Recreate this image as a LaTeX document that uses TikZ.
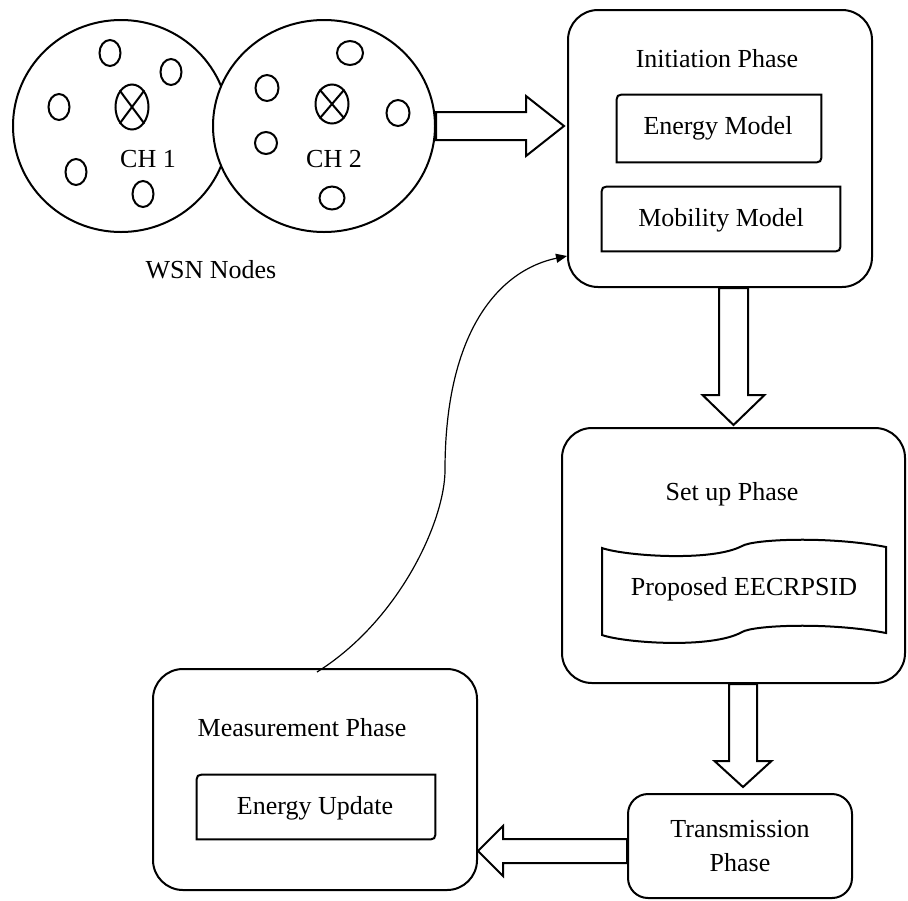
\documentclass[tikz,border=0pt]{standalone}
\usepackage{fontspec}
\setmainfont{Liberation Serif}
\usetikzlibrary{shapes.geometric,arrows.meta,calc}
\newcommand\rdbox[1]{\draw[lw] (#1.south west) -- ($(#1.north west)+(0,10)$) .. controls (#1.north west) .. ($(#1.north west)+(10,0)$) -- (#1.north east) -- ($(#1.south east)+(0,-10)$) .. controls (#1.south east) .. ($(#1.south east)+(-10,0)$) -- cycle;}
\begin{document}
\begin{tikzpicture}[x=0.5pt,y=-0.5pt,
  every node/.style={font=\fontsize{13}{17}\selectfont},
  lw/.style={line width=1pt},
  txt/.style={anchor=base,inner sep=0pt},
  phase/.style={draw,line width=1pt,rounded corners=15pt,inner sep=0pt},
  inbox/.style={inner sep=0pt},
  sens/.style={draw,ellipse,line width=1pt,inner sep=0pt,minimum width=10.5pt,minimum height=13pt},
  chead/.style={draw,ellipse,line width=1pt,inner sep=0pt,minimum width=16.5pt},
  blk/.style={draw,line width=1pt,fill=white,line join=miter}
]
\useasboundingbox (0,0) rectangle (908,900);

% cluster circles
\node[draw,ellipse,line width=1pt,inner sep=0pt,minimum width=108pt,minimum height=106pt] (c1) at (121,126) {};
\node[draw,ellipse,fill=white,line width=1pt,inner sep=0pt,minimum width=111pt,minimum height=106pt] (c2) at (324,126) {};

% sensors in cluster 1
\node[sens] (s11) at (110,53) {};
\node[sens] (s12) at (171,72) {};
\node[sens] (s13) at (59,107) {};
\node[sens] (s14) at (76,172) {};
\node[sens] (s15) at (143,194) {};
% sensors in cluster 2
\node[sens,minimum width=13pt,minimum height=12pt] (s21) at (350,53) {};
\node[sens,minimum width=11.5pt] (s22) at (267,88) {};
\node[sens,minimum width=11.5pt] (s23) at (398,113) {};
\node[sens,minimum width=11pt,minimum height=11pt] (s24) at (266,143) {};
\node[sens,minimum width=12.5pt,minimum height=11.5pt] (s25) at (332,198) {};

% cluster heads
\node[chead,minimum height=22.5pt] (h1) at (132,107) {};
\draw[lw] (h1.north east) -- (h1.south west) (h1.north west) -- (h1.south east);
\node[chead,minimum height=19.5pt] (h2) at (332,104) {};
\draw[lw] (h2.north east) -- (h2.south west) (h2.north west) -- (h2.south east);

\node[txt] (ch1) at (148,167) {CH 1};
\node[txt] (ch2) at (334,167) {CH 2};
\node[txt] (wsn) at (211,278) {WSN Nodes};

% Initiation phase
\node[phase,minimum width=152pt,minimum height=138.5pt] (init) at (720,148.5) {};
\node[txt] (initT) at (717,67) {Initiation Phase};
\node[inbox,minimum width=102pt,minimum height=33.5pt] (em) at (719,128.5) {};
\rdbox{em}
\node[txt] (emT) at (718,134) {Energy Model};
\node[inbox,minimum width=119pt,minimum height=32pt] (mm) at (721,219) {};
\rdbox{mm}
\node[txt] (mmT) at (721,226) {Mobility Model};

% Set up phase
\node[phase,minimum width=171.5pt,minimum height=127.5pt] (setup) at (733.5,555.5) {};
\node[txt] (setupT) at (732,500) {Set up Phase};
\draw[lw] (602,548) .. controls (625,556) and (712,562) .. (742,546) .. controls (754,539) and (830,536) .. (886,547)
  -- (886,633) .. controls (830,622) and (754,625) .. (742,632) .. controls (712,649) and (625,643) .. (602,635) -- cycle;
\node[txt] (prop) at (744,595) {Proposed EECRPSID};

% Transmission phase
\node[draw,line width=1pt,rounded corners=10pt,inner sep=0pt,align=center,minimum width=112pt,minimum height=52pt] (trans) at (740,846) {Transmission\\Phase};

% Measurement phase
\node[phase,minimum width=162pt,minimum height=110.5pt] (meas) at (315,779.5) {};
\node[txt] (measT) at (302,736) {Measurement Phase};
\node[inbox,minimum width=119pt,minimum height=32pt] (eu) at (316,807) {};
\rdbox{eu}
\node[txt] (euT) at (315,814) {Energy Update};

% block arrows
\coordinate (a1s) at (c2.east);
\coordinate (a1e) at ($(init.west |- c2.east)+(-3,0)$);
\draw[blk] ($(a1s)+(0,-14)$) -- ($(a1e)+(-38,-14)$) -- ($(a1e)+(-38,-30)$) -- (a1e) -- ($(a1e)+(-38,30)$) -- ($(a1e)+(-38,14)$) -- ($(a1s)+(0,14)$) -- cycle;

\coordinate (a2s) at (setup.north |- init.south);
\coordinate (a2e) at ($(setup.north)+(0,-2)$);
\draw[blk] ($(a2s)+(-14.5,0)$) -- ($(a2e)+(-14.5,-30)$) -- ($(a2e)+(-31,-30)$) -- (a2e) -- ($(a2e)+(31,-30)$) -- ($(a2e)+(14.5,-30)$) -- ($(a2s)+(14.5,0)$) -- cycle;

\coordinate (a3s) at ($(trans.north |- setup.south)+(3,0)$);
\coordinate (a3e) at ($(trans.north)+(3,-6)$);
\draw[blk] ($(a3s)+(-14,0)$) -- ($(a3e)+(-14,-26)$) -- ($(a3e)+(-28.5,-26)$) -- (a3e) -- ($(a3e)+(28.5,-26)$) -- ($(a3e)+(14,-26)$) -- ($(a3s)+(14,0)$) -- cycle;

\coordinate (a4s) at ($(trans.west)+(0,5)$);
\coordinate (a4e) at (meas.east |- a4s);
\draw[blk] ($(a4s)+(0,-12)$) -- ($(a4e)+(25,-12)$) -- ($(a4e)+(25,-25)$) -- (a4e) -- ($(a4e)+(25,25)$) -- ($(a4e)+(25,12)$) -- ($(a4s)+(0,12)$) -- cycle;

% feedback curve
\draw[line width=0.6pt,-{Triangle[length=5.5pt,width=4.5pt]}] ($(meas.north)+(2,4)$) .. controls (400,620) and (445,520) .. (445,470) .. controls (445,330) and (500,270) .. ($(init.south west)+(0,-32)$);
\end{tikzpicture}
\end{document}
